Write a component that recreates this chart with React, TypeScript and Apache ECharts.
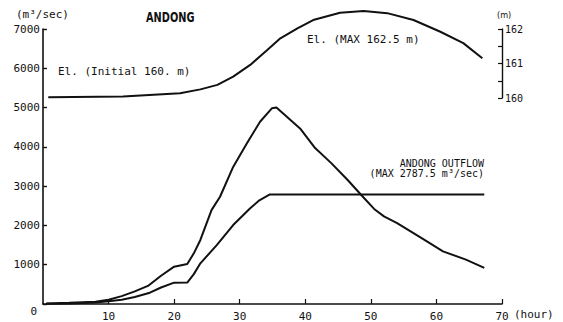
import React, { useEffect, useRef } from "react";
import * as echarts from "echarts";

// Inflow hydrograph (m3/sec)
const INFLOW_HOURS = [0.5, 4, 8, 10, 12, 14, 16, 18, 20, 22, 23, 24, 25.7, 27, 29, 31.1, 33.1, 34.9, 35.6, 36.5, 39.2, 41.5, 44, 46.5, 48.5, 50.5, 52, 54, 57.5, 61, 64.5, 67.3];
const INFLOW = [10, 30, 60, 110, 200, 320, 460, 720, 950, 1018, 1290, 1630, 2390, 2730, 3490, 4090, 4640, 4980, 5000, 4870, 4470, 3970, 3580, 3150, 2780, 2420, 2230, 2060, 1700, 1340, 1130, 920];

// Andong outflow (m3/sec)
const OUTFLOW_HOURS = [0.5, 4, 8, 10, 12, 14, 16.3, 18, 20, 22, 23, 24, 26.5, 29, 31.6, 33, 34.6, 67.3];
const OUTFLOW = [5, 15, 40, 70, 110, 180, 288, 420, 543, 545, 760, 1035, 1500, 2010, 2435, 2640, 2787.5, 2787.5];

// Reservoir elevation (m)
const ELEV_HOURS = [0.8, 12.2, 20.9, 24, 26.6, 29, 31.6, 34.2, 36.2, 38.8, 41.2, 45.3, 48.9, 52.5, 56.5, 60.6, 64.1, 67];
const ELEVATION = [160.02, 160.04, 160.14, 160.25, 160.38, 160.62, 160.96, 161.39, 161.73, 162.02, 162.26, 162.47, 162.52, 162.46, 162.26, 161.92, 161.59, 161.15];

const X_TICKS = [10, 20, 30, 40, 50, 60, 70];

const INK = "#111";
const MONO = "DejaVu Sans Mono";

const pairs = (xs: number[], ys: number[]) => xs.map((x, i) => [x, ys[i]]);

export default function App() {
  const ref = useRef<HTMLDivElement>(null);
  useEffect(() => {
    if (!ref.current) return;
    const chart = echarts.init(ref.current, null, { renderer: "svg" });
    const lineStyle = { color: INK, width: 2 };
    chart.setOption({
      animation: false,
      backgroundColor: "#fff",
      grid: [
        { left: 43, right: 61, top: 29, bottom: 18 },
        { left: 43, right: 61, top: 29, height: 69 },
      ],
      xAxis: [
        {
          gridIndex: 0,
          type: "value",
          min: 0,
          max: 70,
          interval: 10,
          splitLine: { show: false },
          axisLine: { lineStyle: { color: INK, width: 1.6 } },
          axisTick: { inside: true, length: 5, lineStyle: { color: INK, width: 1.2 } },
          axisLabel: {
            showMinLabel: false,
            margin: 7,
            color: INK,
            fontFamily: MONO,
            fontSize: 11,
            formatter: (v: number) => (X_TICKS.includes(v) ? String(v) : ""),
          },
        },
        { gridIndex: 1, type: "value", min: 0, max: 70, show: false },
      ],
      yAxis: [
        {
          gridIndex: 0,
          type: "value",
          min: 0,
          max: 7000,
          interval: 1000,
          splitLine: { show: false },
          axisLine: { show: true, onZero: false, lineStyle: { color: INK, width: 1.6 } },
          axisTick: { show: true, inside: true, length: 4, lineStyle: { color: INK, width: 1.4 } },
          axisLabel: {
            margin: 3,
            color: INK,
            fontFamily: MONO,
            fontSize: 11,
            formatter: (v: number) => (v === 0 ? "{z|0}" : String(v)),
            rich: { z: { padding: [14, 3, 0, 0], color: INK, fontFamily: MONO, fontSize: 11 } },
          },
        },
        {
          gridIndex: 1,
          type: "value",
          position: "right",
          min: 160,
          max: 162,
          interval: 0.5,
          splitLine: { show: false },
          axisLine: { show: true, onZero: false, lineStyle: { color: INK, width: 1.4 } },
          axisTick: { show: true, inside: true, length: 4, lineStyle: { color: INK, width: 1.2 } },
          axisLabel: {
            margin: 3,
            color: INK,
            fontFamily: MONO,
            fontSize: 10,
            formatter: (v: number) => (Number.isInteger(v) ? String(v) : ""),
          },
        },
      ],
      series: [
        {
          name: "Inflow",
          type: "line",
          xAxisIndex: 0,
          yAxisIndex: 0,
          showSymbol: false,
          lineStyle,
          data: pairs(INFLOW_HOURS, INFLOW),
        },
        {
          name: "Andong outflow",
          type: "line",
          xAxisIndex: 0,
          yAxisIndex: 0,
          showSymbol: false,
          lineStyle,
          data: pairs(OUTFLOW_HOURS, OUTFLOW),
        },
        {
          name: "Elevation",
          type: "line",
          xAxisIndex: 1,
          yAxisIndex: 1,
          showSymbol: false,
          clip: false,
          lineStyle,
          data: pairs(ELEV_HOURS, ELEVATION),
        },
      ],
      graphic: [
        {
          type: "group",
          x: 146,
          y: 17,
          scaleX: 0.7,
          children: [
            {
              type: "text",
              x: 0,
              y: 0,
              style: { text: "ANDONG", fill: INK, font: "bold 14px 'DejaVu Sans'", verticalAlign: "middle" },
            },
          ],
        },
        {
          type: "text",
          x: 16,
          y: 14,
          style: { text: "(m³/sec)", fill: INK, font: `11px '${MONO}'`, verticalAlign: "middle" },
        },
        {
          type: "text",
          x: 497,
          y: 15,
          style: { text: "(m)", fill: INK, font: "9px 'DejaVu Sans Condensed'", verticalAlign: "middle" },
        },
        {
          type: "text",
          x: 58,
          y: 71,
          style: { text: "El. (Initial 160. m)", fill: INK, font: `11px '${MONO}'`, verticalAlign: "middle" },
        },
        {
          type: "text",
          x: 307,
          y: 39,
          style: { text: "El. (MAX 162.5 m)", fill: INK, font: `11px '${MONO}'`, verticalAlign: "middle" },
        },
        {
          type: "text",
          x: 484,
          y: 163,
          style: { text: "ANDONG OUTFLOW", fill: INK, font: `10px '${MONO}'`, align: "right", verticalAlign: "middle" },
        },
        {
          type: "text",
          x: 484,
          y: 173,
          style: { text: "(MAX 2787.5 m³/sec)", fill: INK, font: `10px '${MONO}'`, align: "right", verticalAlign: "middle" },
        },
        {
          type: "text",
          x: 514,
          y: 314,
          style: { text: "(hour)", fill: INK, font: `11px '${MONO}'`, verticalAlign: "middle" },
        },
      ],
    });
    return () => chart.dispose();
  }, []);
  return (
    <div
      ref={ref}
      style={{ position: "absolute", left: 0, top: 0, width: 563, height: 322, background: "#fff" }}
    />
  );
}
